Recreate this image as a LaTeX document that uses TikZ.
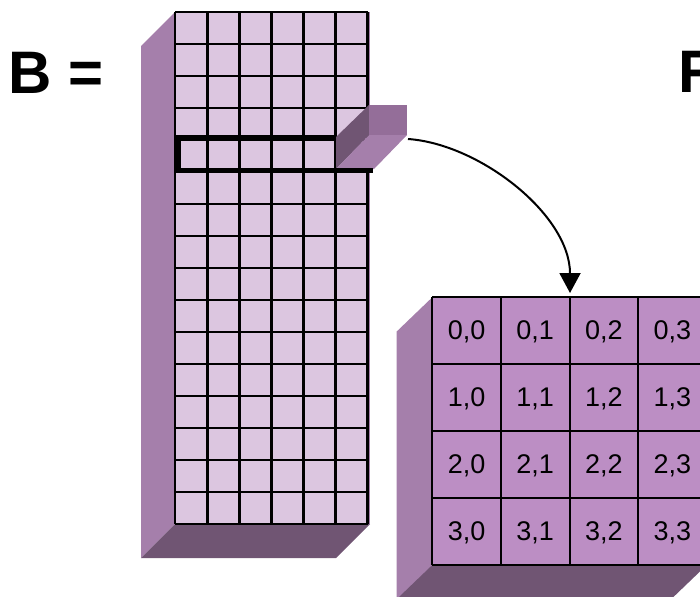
\documentclass[tikz,border=0pt]{standalone}
\usepackage{fontspec}
\setmainfont{Liberation Sans}
\usetikzlibrary{arrows.meta}
\definecolor{cellB}{HTML}{DCC6E0}
\definecolor{cellR}{HTML}{BC8EC4}
\definecolor{sideface}{HTML}{A57FAB}
\definecolor{baseface}{HTML}{705573}
\definecolor{pieceface}{HTML}{946E99}
\tikzset{
  gridB/.style={line width=2.8pt, black},
  gridR/.style={line width=2pt, black},
  rowmark/.style={line width=5pt, black},
  biglabel/.style={inner sep=0pt, font=\fontsize{60}{64}\selectfont\bfseries},
  celllabel/.style={inner sep=0pt, font=\fontsize{27}{32}\selectfont},
  flow/.style={line width=2pt, -{Triangle[length=20pt,width=21pt]}}
}
\begin{document}
\begin{tikzpicture}[x=1pt,y=-1pt]
\useasboundingbox (0,0) rectangle (700,596);
\clip (0,0) rectangle (700,596);

% ---------- tall block B: 16 rows x 6 columns ----------
\fill[sideface] (175,12) -- (141,46) -- (141,558) -- (175,524) -- cycle;
\fill[baseface] (175,524) -- (141,558) -- (336,558) -- (370,524) -- cycle;
\fill[sideface] (175,12) rectangle (370,524);
\fill[cellB] (175,12) rectangle (367.6,524);
\foreach \i in {0,...,6} {
  \draw[gridB] ({175+\i*32.1},12) -- ({175+\i*32.1},524);
}
\foreach \j in {0,...,16} {
  \draw[gridB] (175,{12+\j*32}) -- (367.6,{12+\j*32});
}

% the last cell of the marked row, pulled out of the block
\fill[baseface] (336,137) -- (369,105) -- (369,135) -- (336,169) -- cycle;
\fill[sideface] (336,169) -- (369,135) -- (407,135) -- (374,169) -- cycle;
\fill[pieceface] (369,105) rectangle (407,135);

% outline of the marked row
\draw[rowmark] (175,137.8) -- (336,137.8);
\draw[rowmark] (178.3,135.5) -- (178.3,173.3);
\draw[rowmark] (175,170.8) -- (373,170.8);

\node[biglabel, anchor=base west] (labB) at (8.6,94) {B =};

% ---------- block R: 4 x 4 ----------
\fill[sideface] (432.3,297.3) -- (396.6,331.6) -- (396.6,620) -- (432.3,565) -- cycle;
\fill[baseface] (432.3,565) -- (396.6,599.3) -- (671,599.3) -- (706.7,565) -- cycle;
\fill[cellR] (432.3,297.3) rectangle (706.7,565);
\foreach \i in {0,...,4} {
  \draw[gridR] ({432.3+\i*68.6},297.3) -- ({432.3+\i*68.6},565);
}
\foreach \j in {0,...,4} {
  \draw[gridR] (432.3,{297.3+\j*66.9}) -- (706.7,{297.3+\j*66.9});
}
\foreach \r in {0,...,3} {
  \foreach \c in {0,...,3} {
    \node[celllabel] (c\r\c) at ({432.3+(\c+0.5)*68.6},{297.3+(\r+0.5)*66.9+1.5}) {\r,\c};
  }
}

\node[biglabel, anchor=base west] (labR) at (678.6,93) {R};

% ---------- connector ----------
\coordinate (pieceout) at (408,139);
\coordinate (rtop) at (570,293);
\draw[flow] (pieceout) .. controls (480,144) and (570,215) .. (rtop);
\end{tikzpicture}
\end{document}
